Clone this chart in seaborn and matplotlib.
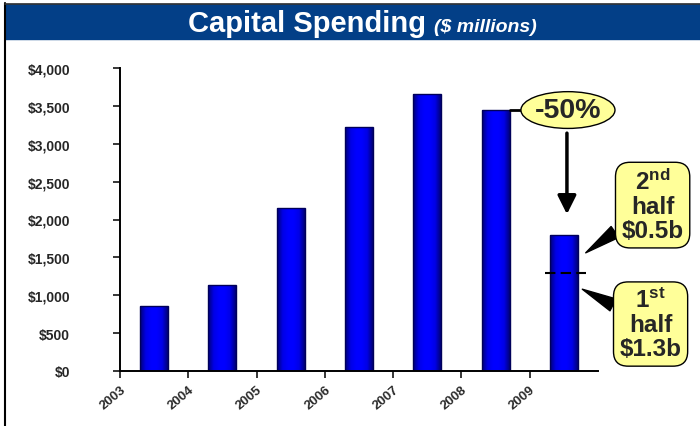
import numpy as np
import pandas as pd
import matplotlib
matplotlib.use("Agg")
import matplotlib.pyplot as plt
import seaborn as sns
from matplotlib.patches import Rectangle
from matplotlib.lines import Line2D
from matplotlib.colors import LinearSegmentedColormap

# Capital spending by year ($ millions)
years = ["2003", "2004", "2005", "2006", "2007", "2008", "2009"]
spending = [860, 1135, 2150, 3220, 3655, 3445, 1800]
first_half_2009 = 1300
second_half_2009 = 500
ytick_values = [0, 500, 1000, 1500, 2000, 2500, 3000, 3500, 4000]
ytick_labels = ["$0", "$500", "$1,000", "$1,500", "$2,000", "$2,500",
                "$3,000", "$3,500", "$4,000"]

sns.set_style("white")
plt.rcParams["font.family"] = ["Liberation Sans", "DejaVu Sans"]
plt.rcParams["mathtext.fontset"] = "custom"
plt.rcParams["mathtext.rm"] = "Liberation Sans"
plt.rcParams["mathtext.bf"] = "Liberation Sans:bold"

fig = plt.figure(figsize=(7, 4.27), dpi=100)
W, H = 700, 427

# header band and frame
fig.patches.append(Rectangle((5 / W, (H - 40) / H), 695 / W, 35 / H,
                             transform=fig.transFigure, color="#033f87", zorder=0))
fig.lines.append(Line2D([4.5 / W, 4.5 / W], [0, (H - 4) / H], transform=fig.transFigure,
                        color="black", lw=1.5))
fig.lines.append(Line2D([4.5 / W, 1], [(H - 4.5) / H, (H - 4.5) / H],
                        transform=fig.transFigure, color="#333333", lw=1.2))
fig.text(426 / W, (H - 31.5) / H, "Capital Spending", color="white", fontsize=21,
         fontweight="bold", ha="right", va="baseline")
fig.text(434 / W, (H - 31.5) / H, "($ millions)", color="white", fontsize=14,
         fontweight="bold", fontstyle="italic", ha="left", va="baseline")

ax = fig.add_axes([120 / W, 55 / H, 478 / W, 303 / H])
df = pd.DataFrame({"year": years, "spending": spending})
sns.barplot(data=df, x="year", y="spending", color="#0000ff", saturation=1,
            width=0.41, edgecolor="#00005a", linewidth=1, ax=ax)

# horizontal shading on each bar
cmap = LinearSegmentedColormap.from_list(
    "barshade", ["#000078", "#0000e6", "#0000ff", "#0000ff", "#0000e6", "#000078"])
grad = np.linspace(0, 1, 64).reshape(1, -1)
bars = list(ax.patches)
for p in bars:
    x0, y0, w, h = p.get_x(), p.get_y(), p.get_width(), p.get_height()
    im = ax.imshow(grad, cmap=cmap, extent=[x0, x0 + w, y0, y0 + h],
                   aspect="auto", zorder=1.5, interpolation="bilinear")
    im.set_clip_path(p)
    p.set_facecolor("none")
    p.set_zorder(2)

ax.set_xlim(-0.5, len(years) - 0.5)
ax.set_ylim(0, 4000)
ax.set_xticks(np.arange(len(years)) - 0.5)
ax.set_xticklabels(years, rotation=40, ha="right", va="top", rotation_mode="anchor",
                   fontsize=9.5, fontweight="bold", color="#2a2a2a")
ax.set_yticks(ytick_values)
ax.set_yticklabels(ytick_labels, fontsize=10, fontweight="bold")
ax.tick_params(axis="y", length=5, width=1.3, pad=31, left=True)
ax.tick_params(axis="x", length=5, width=1.3, pad=4, bottom=True)
ax.set_xlabel("")
ax.set_ylabel("")
sns.despine(ax=ax)
for s in ("left", "bottom"):
    ax.spines[s].set_linewidth(1.4)
    ax.spines[s].set_color("black")

yellow = "#ffff99"
b08 = bars[5]

# -50% callout tied to the 2008 bar
ax.plot([b08.get_x() + b08.get_width(), 5.9], [spending[5], spending[5]],
        color="black", lw=2, zorder=2.5, clip_on=False)
ax.annotate("-50%", xy=(6.06, spending[5]), ha="center", va="center",
            fontsize=20.5, fontweight="bold", annotation_clip=False, zorder=5,
            bbox=dict(boxstyle="ellipse,pad=0.0", fc=yellow, ec="black", lw=1))
ax.annotate("", xy=(6.045, 2070), xytext=(6.045, 3140), annotation_clip=False,
            arrowprops=dict(arrowstyle="-|>,head_length=0.7,head_width=0.35",
                            lw=2.5, color="black", mutation_scale=16,
                            shrinkA=0, shrinkB=0), zorder=4)

# split of the 2009 total
ax.plot([5.72, 6.32], [first_half_2009, first_half_2009], color="black", lw=1.5,
        ls=(0, (5, 2.5)), zorder=3, clip_on=False)

box = dict(boxstyle="round,pad=0.25,rounding_size=0.6", fc=yellow, ec="black", lw=1)
wedge = dict(arrowstyle="wedge,tail_width=0.55", fc="black", ec="black",
             shrinkA=0, shrinkB=0)
ax.annotate("$\\mathbf{2^{nd}}$\nhalf\n\\$%.1fb" % (second_half_2009 / 1000),
            xy=(6.32, 1560), xytext=(7.3, 2190), ha="center", va="center",
            multialignment="center", fontsize=17.5, fontweight="bold",
            linespacing=1.05, annotation_clip=False, bbox=box, arrowprops=wedge,
            zorder=5)
ax.annotate("$\\mathbf{1^{st}}$\nhalf\n\\$%.1fb" % (first_half_2009 / 1000),
            xy=(6.27, 1080), xytext=(7.27, 620), ha="center", va="center",
            multialignment="center", fontsize=17.5, fontweight="bold",
            linespacing=1.05, annotation_clip=False, bbox=box, arrowprops=wedge,
            zorder=5)

fig.savefig("out.png", dpi=100)
